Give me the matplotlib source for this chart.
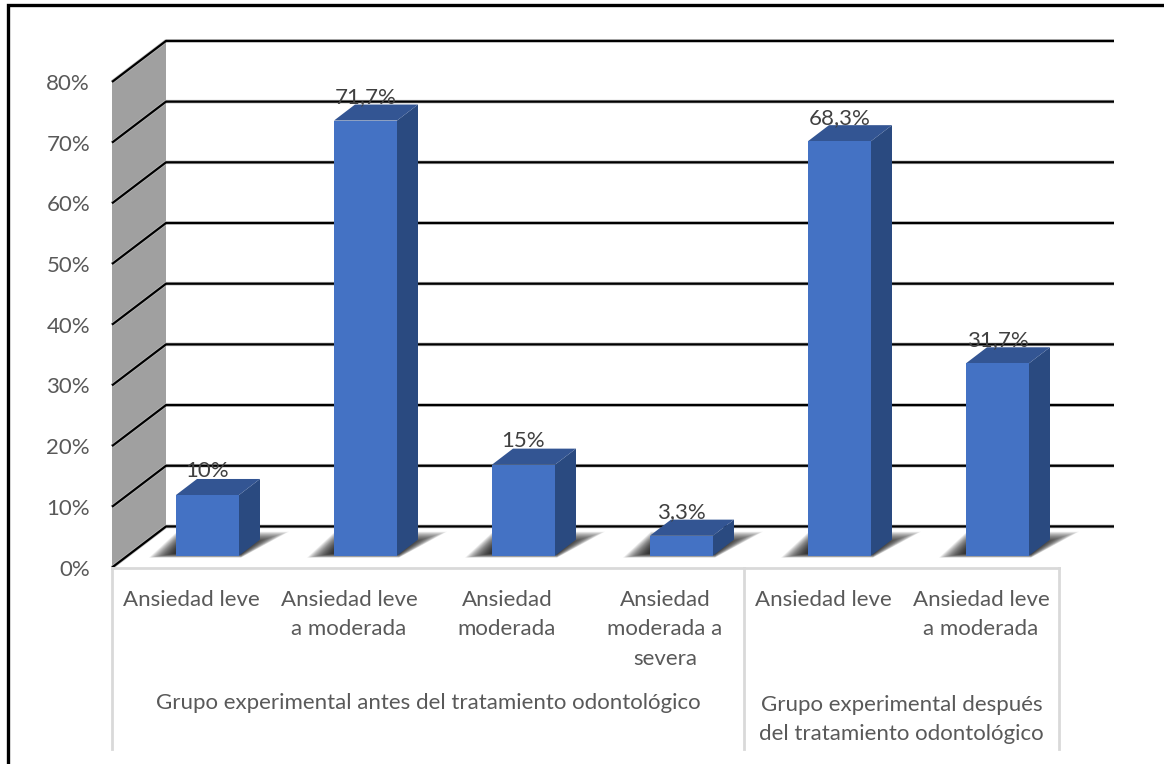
import matplotlib
matplotlib.use("Agg")

import matplotlib.pyplot as plt
from matplotlib.lines import Line2D
from matplotlib.patches import Polygon

# ================= DATA =================
categories = ["Ansiedad leve", "Ansiedad leve\na moderada", "Ansiedad\nmoderada",
              "Ansiedad\nmoderada a\nsevera", "Ansiedad leve", "Ansiedad leve\na moderada"]
values = [10, 71.7, 15, 3.3, 68.3, 31.7]
value_labels = ["10%", "71,7%", "15%", "3,3%", "68,3%", "31,7%"]
groups = ["Grupo experimental antes del tratamiento odontológico",
          "Grupo experimental después\ndel tratamiento odontológico"]
y_ticks = [0, 10, 20, 30, 40, 50, 60, 70, 80]

# ================= LAYOUT (pixels of the 1164x764 picture) =================
W, H = 1164, 764
PX_X = 158.0    # pixels per category
PX_Y = 6.06     # pixels per percent
X0_PX = 207.5   # centre of first bar
Y0_PX = 567.5   # 0% on the front edge of the wall
LEFT_PX, RIGHT_PX = 112, 1114

# 3d offsets in data units
WALL_DX, WALL_DY = 54 / PX_X, 41 / PX_Y
BAR_DX, BAR_DY = 21 / PX_X, 16 / PX_Y
BAR_W = 63 / PX_X
FLOOR = 11.8 / PX_Y

FRONT, SIDE, TOP = "#4472C4", "#2A4A80", "#335593"
TEXT = "#595959"
FS = 16

plt.rcParams["font.family"] = ["Lato", "DejaVu Sans"]

fig = plt.figure(figsize=(W / 100, H / 100), dpi=100)
ax = fig.add_axes([LEFT_PX / W, 1 - Y0_PX / H, (RIGHT_PX - LEFT_PX) / W, (Y0_PX - 82) / H])
ax.set_xlim((LEFT_PX - X0_PX) / PX_X, (RIGHT_PX - X0_PX) / PX_X)
ax.set_ylim(0, 80)
ax.axis("off")

xl = ax.get_xlim()[0]
xr = ax.get_xlim()[1]

# outer frame: only the top and left edges are in the picture
fig.add_artist(Line2D([8 / W, 8 / W, 1], [0, 1 - 5 / H, 1 - 5 / H], transform=fig.transFigure,
                      color="black", linewidth=2.4, solid_joinstyle="miter"))

# ================= WALL AND GRID =================
ax.add_patch(Polygon([(xl, 0), (xl + WALL_DX, WALL_DY), (xl + WALL_DX, 80 + WALL_DY), (xl, 80)],
                     closed=True, facecolor="#A0A0A0", edgecolor="none", clip_on=False, zorder=1))

for t in y_ticks:
    xs = [xl, xl + WALL_DX, xr]
    ys = [t, t + WALL_DY, t + WALL_DY]
    ax.plot(xs, ys, color="#BDBDBD", linewidth=2.6, clip_on=False, zorder=2, solid_capstyle="butt")
    ax.plot(xs, ys, color="black", linewidth=1.6, clip_on=False, zorder=3, solid_capstyle="butt")
    ax.text(xl - 22 / PX_X, t - 2 / PX_Y, f"{t}%", ha="right", va="center", fontsize=FS, color=TEXT)

# ================= BARS =================
for i, (v, lab) in enumerate(zip(values, value_labels)):
    x1 = i - BAR_W / 2
    x2 = i + BAR_W / 2
    y1 = FLOOR
    y2 = FLOOR + v

    # floor shadow, layered to fake the blur
    n = 24
    for k in range(n):
        s = k / (n - 1)
        low = y1 + (-2 + 4 * s) / PX_Y
        top = y1 + (24 - 12 * s) / PX_Y
        ax.add_patch(Polygon([(x1 - (27 - 25 * s) / PX_X, low), (x1 + (1 + 4 * s) / PX_X, top),
                              (x2 + (50 - 38 * s) / PX_X, top), (x2 + 2 / PX_X, low)],
                             closed=True, facecolor="black", edgecolor="none",
                             alpha=0.06, clip_on=False, zorder=4))

    ax.add_patch(Polygon([(x2, y1), (x2 + BAR_DX, y1 + BAR_DY), (x2 + BAR_DX, y2 + BAR_DY), (x2, y2)],
                         closed=True, facecolor=SIDE, edgecolor="none", clip_on=False, zorder=5))
    ax.add_patch(Polygon([(x1, y2), (x1 + BAR_DX, y2 + BAR_DY), (x2 + BAR_DX, y2 + BAR_DY), (x2, y2)],
                         closed=True, facecolor=TOP, edgecolor="none", clip_on=False, zorder=5))
    ax.bar(i, v, width=BAR_W, bottom=y1, color=FRONT, edgecolor="none", zorder=6, clip_on=False)

    ax.text(i, y2 + 23.5 / PX_Y, lab, ha="center", va="center", fontsize=FS, color="#404040", zorder=7)

# ================= CATEGORY AXIS =================
AXIS_C = "#D9D9D9"
label_off = 16.5 / PX_X
x_end = xl + 947 / PX_X
x_split = xl + 4 * 1.0
bottom_y = -(749 - Y0_PX) / PX_Y

ax.plot([xl, x_end], [0, 0], color=AXIS_C, linewidth=2, clip_on=False, zorder=4)
for x in [xl, x_split, x_end]:
    ax.plot([x, x], [0, bottom_y], color=AXIS_C, linewidth=2, clip_on=False, zorder=4)

for i, cat in enumerate(categories):
    ax.text(i - label_off, -(590 - Y0_PX) / PX_Y, cat, ha="center", va="top", fontsize=FS,
            color=TEXT, linespacing=1.58)

ax.text((xl + x_split) / 2, -(703 - Y0_PX) / PX_Y, groups[0], ha="center", va="center",
        fontsize=FS, color=TEXT)
ax.text((x_split + x_end) / 2, -(695 - Y0_PX) / PX_Y, groups[1], ha="center", va="top",
        fontsize=FS, color=TEXT, linespacing=1.58)

fig.savefig("out.png", dpi=100, facecolor="white")
